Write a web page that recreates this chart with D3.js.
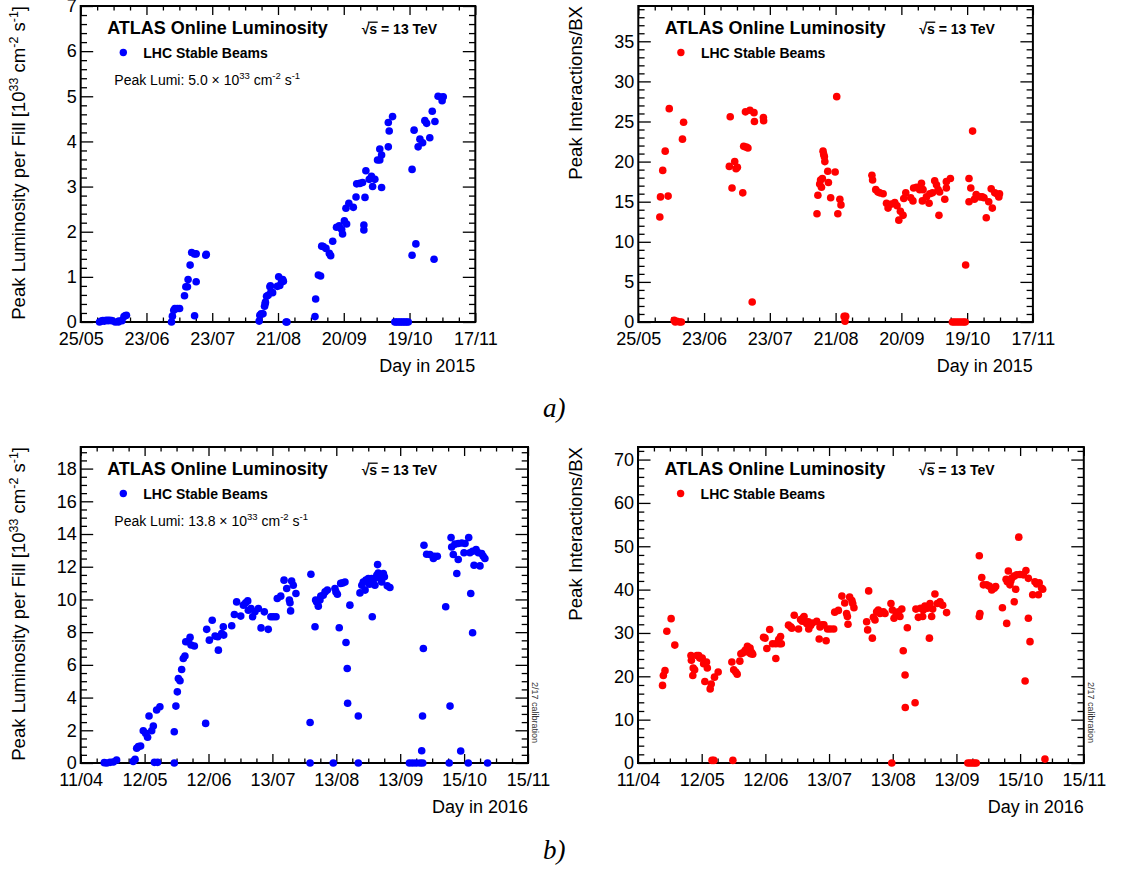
<!DOCTYPE html>
<html><head><meta charset="utf-8">
<script src="https://cdn.jsdelivr.net/npm/d3@7"></script>
<style>
html,body{margin:0;padding:0;background:#fff;}
svg{display:block;font-family:"Liberation Sans",Arial,Helvetica,sans-serif;}
</style></head><body>
<svg id="c" width="1126" height="870"></svg>
<script>
// ---------------- data ----------------
// x = days since first axis label (25/05/2015 or 11/04/2016)
const ticks2015 = ["25/05","23/06","23/07","21/08","20/09","19/10","17/11"];
const ticks2016 = ["11/04","12/05","12/06","13/07","13/08","13/09","15/10","15/11"];
const span2015 = 176;   // 25/05 -> 17/11
const span2016 = 218;   // 11/04 -> 15/11

const lumi2015 = [
 [8.4,0.0],[9.2,0.02],[9.9,0.03],[10.6,0.02],[11.4,0.04],[12.2,0.03],[12.8,0.04],[13.8,0.03],[15.4,0.0],[16.8,0.0],[17.0,0.02],[18.4,0.03],[19.3,0.12],[19.8,0.14],[20.4,0.15],
 [40.5,0.0],[40.9,0.13],[41.5,0.26],[42.0,0.3],[43.1,0.3],[44.1,0.3],[46.3,0.58],[46.9,0.78],[47.6,0.78],[47.9,0.94],[48.8,1.26],[49.5,1.54],[50.7,1.51],[51.5,1.51],[51.5,0.89],[50.8,0.14],[55.8,1.48],[56.0,1.5],
 [79.6,0.02],[79.9,0.15],[80.5,0.18],[81.3,0.18],[82.0,0.35],[82.3,0.41],[82.4,0.44],[82.9,0.57],[83.6,0.59],[84.4,0.78],[84.6,0.8],[84.8,0.66],[85.6,0.65],[87.7,0.79],[88.3,1.0],[88.8,0.81],[89.6,0.89],[90.1,0.94],[90.4,0.9],[91.6,0.0],[92.0,0.0],
 [104.5,0.12],[104.8,0.51],[106.0,1.04],[107.0,1.02],[107.5,1.68],[108.2,1.67],[109.4,1.63],[110.9,1.52],[111.5,1.47],[112.4,1.79],[114.1,2.10],[115.3,2.13],[116.4,2.05],[116.8,1.95],[117.6,2.24],[118.6,2.17],[118.3,2.52],[119.6,2.63],[121.6,2.54],[122.8,2.77],[123.1,3.06],[124.5,3.07],[125.7,3.09],[126.3,2.15],[126.3,2.04],[126.8,2.76],[127.2,3.35],[128.7,3.16],[129.7,3.23],[131.2,3.16],[130.2,3.0],[132.4,3.59],[133.4,3.59],[134.2,3.70],[133.4,3.83],[134.2,2.98],[137.2,3.88],[137.6,4.23],[137.2,4.42],[139.1,4.55],
 [140.1,0],[140.8,0],[141.6,0],[142.4,0],[143.1,0],[143.9,0],[144.6,0],[145.4,0],[146.1,0],
 [147.8,3.38],[148.7,4.25],[147.8,1.48],[149.5,1.73],[150.5,3.88],[151.3,4.05],[152.5,3.97],[153.5,4.46],[154.3,4.40],[155.7,4.08],[156.8,4.67],[158.0,4.44],[157.6,1.39],[159.4,5.0],[160.9,4.98],[161.2,4.9],[161.7,4.99]
];

const pileup2015 = [
 [9.6,13.1],[9.9,15.6],[10.9,18.9],[12.0,21.3],[13.3,15.7],[13.8,26.6],[16.0,0.2],[16.5,0.0],[17.2,0.1],[18.4,0.0],[19.2,0.0],[19.7,22.8],[20.2,24.9],
 [40.6,19.4],[41.0,25.6],[41.8,16.7],[43.0,20.0],[43.6,19.1],[44.2,19.3],[46.6,16.1],[47.0,21.9],[47.8,26.2],[48.2,21.8],[48.9,21.7],[49.8,26.4],[50.8,2.5],[51.6,26.1],[51.8,25.0],[55.8,25.5],[55.9,25.1],
 [79.7,13.5],[80.1,15.8],[80.9,17.2],[81.3,17.7],[81.7,16.8],[82.1,17.9],[82.4,21.3],[82.7,20.9],[83.0,20.6],[83.2,20.0],[84.5,18.8],[84.8,17.4],[85.8,15.5],[87.8,18.7],[88.5,28.1],[89.0,13.5],[89.9,15.3],[90.4,14.6],[91.8,0.7],[92.2,0.1],[92.5,0.7],
 [104.2,18.3],[104.5,17.7],[105.9,16.5],[106.9,16.2],[107.7,16.1],[109.2,16.0],[110.7,14.8],[111.4,14.2],[112.9,14.7],[114.4,14.9],[115.4,14.5],[116.2,12.7],[116.9,13.8],[118.1,13.3],[118.4,15.4],[119.3,16.1],[121.5,15.5],[122.5,15.1],[122.8,16.7],[124.1,16.8],[125.5,16.5],[126.3,17.3],[127.0,16.5],[126.7,15.1],[128.5,15.6],[129.7,14.8],[130.0,16.0],[131.2,16.1],[132.2,17.6],[133.0,17.1],[133.7,16.5],[134.1,13.3],[134.4,16.2],[136.7,15.3],[137.4,17.5],[139.2,17.9],[137.4,16.7],
 [140.1,0],[141.0,0],[142.0,0],[143.0,0],[144.0,0],[145.0,0],[145.8,0],[146.0,7.1],
 [147.5,17.9],[148.3,16.7],[147.5,15.0],[149.1,23.8],[149.9,15.3],[150.7,15.9],[152.3,15.6],[153.4,15.6],[154.2,15.5],[155.2,13.0],[156.3,15.0],[157.4,16.6],[157.9,14.2],[159.0,16.1],[160.3,15.9],[160.8,15.6],[161.1,16.0]
];

const lumi2016 = [
 [11.5,0.02],[12.7,0.0],[14.3,0.04],[15.9,0.06],[17.5,0.18],
 [25.6,0.1],[26.5,0.22],[27.3,0.9],[28.1,1.0],[29.2,1.04],[30.5,1.97],[31.7,1.81],[32.6,1.57],[33.3,2.87],[34.6,1.97],[35.4,2.26],[35.9,0.04],[37.5,0.04],[37.0,3.24],[38.6,3.44],
 [45.6,1.91],[45.6,0.0],[46.4,3.48],[47.1,4.35],[47.6,5.17],[48.4,5.03],[49.2,5.72],[50.0,6.39],[50.8,6.54],[51.2,7.41],[52.4,7.41],[53.3,7.68],[53.8,7.21],[55.4,7.15],
 [60.9,2.42],[61.4,8.17],[62.7,7.51],[64.1,8.73],[65.5,7.76],[66.8,7.72],[67.1,6.90],[68.7,7.92],[69.5,8.33],[69.7,7.82],
 [73.6,8.39],[74.9,9.08],[76.0,9.85],[78.0,8.98],[79.3,9.65],[80.4,9.79],[81.4,9.91],[81.7,9.34],[83.0,9.45],[83.8,8.94],[84.9,9.24],[86.6,9.45],[87.9,8.26],[89.5,9.24],[91.4,8.17],[92.7,8.94],[93.9,8.94],[95.2,8.94],
 [95.8,10.06],[97.5,10.20],[99.1,11.18],[100.4,10.67],[101.7,9.96],[102.0,9.79],[102.3,9.30],[102.8,11.12],[103.6,10.87],[104.9,10.36],
 [111.8,2.48],[111.8,0.0],[112.2,11.54],[114.2,8.33],[114.5,9.96],[115.0,9.85],[115.8,9.59],[116.6,9.96],[117.0,10.2],[118.2,10.26],[119.1,10.46],[120.2,10.57],
 [123.1,0.0],[123.9,10.67],[124.4,10.46],[125.1,10.32],[126.0,8.27],[126.7,10.98],[127.7,11.01],[128.8,11.07],[129.3,7.37],[129.9,5.78],[130.1,3.65],[131.2,9.65],
 [135.3,2.87],[135.3,0.0],[136.1,10.40],[137.0,10.87],[137.7,11.07],[139.0,11.18],[140.2,11.28],[140.7,10.93],[141.8,11.28],[142.6,11.18],[138.6,10.57],[142.1,8.94],[143.4,10.87],[144.3,11.48],[145.0,11.62],[144.7,12.13],[145.9,11.28],[146.7,11.07],[147.5,11.59],[148.0,11.38],[149.4,10.83],[150.7,10.73],
 [160.2,0],[161.8,0],[163.5,0],[165.4,0],[166.7,0],
 [166.2,0.75],[166.6,2.87],[167.0,7.00],[167.3,13.31],[168.6,12.76],[170.2,12.75],[171.9,12.50],[172.3,12.64],[173.8,12.64],
 [177.9,9.55],[179.6,0],[180.0,3.48],[180.5,13.78],[180.8,13.21],[182.4,13.38],[184.0,13.42],[185.7,13.45],[187.3,13.42],[181.6,12.75],[183.3,11.59],[184.0,12.44],[185.2,0.73],[186.8,12.85],[188.9,0],[189.1,13.78],[189.7,12.85],[191.0,12.95],[192.7,13.05],[190.1,10.36],[191.0,7.96],[191.7,12.09],[194.6,12.05],[193.8,12.85],[195.4,12.81],[196.2,12.64],[197.0,12.50],[198.3,0]
];

const pileup2016 = [
 [12.0,17.9],[12.4,20.2],[13.2,21.3],[14.1,30.4],[16.2,33.3],[18.0,27.2],
 [25.9,24.8],[26.1,23.7],[26.8,20.2],[27.0,21.9],[27.7,21.5],[28.8,24.8],[29.7,24.8],[30.2,24.2],[31.4,24.2],[32.1,22.9],[32.7,18.8],[33.5,23.3],[33.9,21.9],[35.3,17.1],[35.8,18.2],[36.2,0.6],[37.1,0.6],[37.4,19.8],[39.2,21.0],
 [45.9,23.3],[46.4,0.6],[46.8,21.5],[47.8,21.0],[48.5,20.5],[49.8,23.5],[50.3,25.2],[51.2,25.4],[52.4,26.0],[53.5,26.9],[53.8,25.6],[55.1,25.2],[55.6,25.5],[54.8,26.5],[56.1,25.1],
 [61.4,29.0],[62.1,28.8],[63.0,26.4],[64.4,30.8],[65.8,27.5],[67.4,27.5],[67.4,24.1],[68.8,28.5],[69.2,27.5],[69.7,29.2],[70.1,27.5],
 [73.6,31.8],[74.7,31.4],[75.2,31.1],[76.4,34.1],[78.5,30.9],[79.5,33.1],[80.3,32.7],[80.8,33.5],[81.2,33.8],[82.1,32.5],[82.6,32.1],[83.3,32.6],[83.5,30.9],[84.4,31.7],[85.3,32.3],[87.4,32.7],[88.6,28.6],[89.0,31.4],[90.0,31.9],[90.9,31.9],[92.0,28.2],[92.7,30.9],[94.1,30.9],[95.7,30.9],
 [96.2,34.8],[98.0,35.2],[99.7,38.5],[101.1,36.9],[102.0,34.5],[102.4,33.8],[102.7,32.0],[103.5,38.3],[104.6,37.5],[105.0,36.8],[105.6,35.8],
 [111.8,32.6],[112.3,30.7],[112.8,39.7],[114.6,28.8],[115.1,33.6],[115.9,33.0],[116.7,34.9],[117.5,35.3],[118.3,34.5],[119.2,34.7],[120.0,34.9],[120.8,34.5],
 [123.7,36.8],[124.1,0],[124.4,35.3],[125.2,33.4],[126.2,34.1],[127.3,34.9],[128.1,33.8],[129.0,35.5],[129.7,25.9],[130.6,20.3],[130.7,12.8],[131.7,31.2],
 [135.5,13.9],[135.9,35.5],[137.1,33.6],[138.2,35.7],[139.2,33.8],[139.5,35.3],[140.3,36.2],[141.5,35.7],[142.5,28.8],[142.8,36.8],[143.6,33.8],[144.1,35.5],[145.2,39.0],[146.4,36.8],[147.7,37.2],[149.0,36.4],[150.9,34.7],
 [161.3,0],[162.4,0],[163.5,0],[164.5,0],[165.4,0],
 [166.9,47.8],[168.1,42.8],[167.2,34.5],[166.9,33.8],[168.9,41.1],[170.5,41.1],[171.8,40.8],[173.0,39.9],[174.2,40.3],[174.9,40.7],
 [178.2,35.8],[180.3,32.2],[181.1,44.3],[180.0,42.4],[180.6,41.8],[181.9,41.1],[182.7,42.6],[183.9,43.1],[185.2,43.4],[186.8,43.5],[188.4,43.4],[189.7,44.4],[190.9,42.6],[182.3,42.0],[184.0,37.2],[184.7,40.1],[186.2,52.1],[189.3,18.9],[190.9,33.4],[191.7,28.0],[193.0,38.8],[194.1,41.8],[195.0,41.3],[196.2,41.6],[197.4,40.3],[195.8,38.8],[197.9,40.1],[199.0,0.9]
];

const yTicksLumi2015 = [0,1,2,3,4,5,6,7];
const yTicksPU2015 = [0,5,10,15,20,25,30,35];
const yTicksLumi2016 = [0,2,4,6,8,10,12,14,16,18];
const yTicksPU2016 = [0,10,20,30,40,50,60,70];

// ---------------- drawing ----------------
const svg = d3.select("#c");
const FONT = '"Liberation Sans",Arial,Helvetica,sans-serif';

const panels = [
 {data:lumi2015, color:"#0000ff", x0:80.7, y0:6, w:394.6, h:316, span:span2015, labels:ticks2015,
  ymax:7, yTicks:yTicksLumi2015, yMinor:0.2, ytitle:"lumi", xtitle:"Day in 2015", peak:"5.0", calib:false},
 {data:pileup2015, color:"#ff0000", x0:638.3, y0:6, w:394.6, h:316, span:span2015, labels:ticks2015,
  ymax:39.4, yTicks:yTicksPU2015, yMinor:1, ytitle:"pu", xtitle:"Day in 2015", peak:null, calib:false},
 {data:lumi2016, color:"#0000ff", x0:80.7, y0:447, w:447.3, h:316, span:span2016, labels:ticks2016,
  ymax:19.32, yTicks:yTicksLumi2016, yMinor:0.5, ytitle:"lumi", xtitle:"Day in 2016", peak:"13.8", calib:true},
 {data:pileup2016, color:"#ff0000", x0:638.0, y0:447, w:445.8, h:316, span:span2016, labels:ticks2016,
  ymax:72.9, yTicks:yTicksPU2016, yMinor:2, ytitle:"pu", xtitle:"Day in 2016", peak:null, calib:true}
];

function styleAxis(g){
  g.select(".domain").remove();
  g.selectAll(".tick line").attr("stroke","#000").attr("stroke-width",1.3);
  g.selectAll(".tick text").attr("fill","#000").attr("font-size",18).attr("font-family",FONT);
  g.attr("font-family",FONT);
}

function supText(sel, parts, baseSize, supSize, supDy){
  parts.forEach(([t,s],i)=>{
    const prevSup = i>0 && parts[i-1][1];
    const ts = sel.append("tspan").text(t).attr("font-size", s?supSize:baseSize);
    if (s && !prevSup) ts.attr("dy", -supDy);
    else if (!s && prevSup) ts.attr("dy", supDy);
  });
}

panels.forEach(p=>{
  const g = svg.append("g");
  const x = d3.scaleLinear().domain([0,p.span]).range([p.x0, p.x0+p.w]);
  const y = d3.scaleLinear().domain([0,p.ymax]).range([p.y0+p.h, p.y0]);
  const nInt = p.labels.length-1;
  const majorX = p.labels.map((d,i)=>i*p.span/nInt);
  const minorX = [];
  for (let i=0;i<nInt;i++) for (let k=1;k<4;k++) minorX.push((i+k/4)*p.span/nInt);
  const minorY = d3.range(0, p.ymax+1e-9, p.yMinor).filter(v=>!p.yTicks.some(t=>Math.abs(t-v)<1e-6));

  // bottom axis
  g.append("g").attr("transform",`translate(0,${p.y0+p.h})`)
    .call(d3.axisBottom(x).tickValues(majorX).tickSize(-9).tickPadding(10).tickFormat((d,i)=>p.labels[i]))
    .call(styleAxis);
  g.append("g").attr("transform",`translate(0,${p.y0+p.h})`)
    .call(d3.axisBottom(x).tickValues(minorX).tickSize(-4.5).tickFormat(""))
    .call(styleAxis);
  // top axis
  g.append("g").attr("transform",`translate(0,${p.y0})`)
    .call(d3.axisTop(x).tickValues(majorX).tickSize(-9).tickFormat(""))
    .call(styleAxis);
  g.append("g").attr("transform",`translate(0,${p.y0})`)
    .call(d3.axisTop(x).tickValues(minorX).tickSize(-4.5).tickFormat(""))
    .call(styleAxis);
  // left axis
  g.append("g").attr("transform",`translate(${p.x0},0)`)
    .call(d3.axisLeft(y).tickValues(p.yTicks).tickSize(-12.5).tickPadding(4).tickFormat(d3.format("d")))
    .call(styleAxis);
  g.append("g").attr("transform",`translate(${p.x0},0)`)
    .call(d3.axisLeft(y).tickValues(minorY).tickSize(-6.3).tickFormat(""))
    .call(styleAxis);
  // right axis
  g.append("g").attr("transform",`translate(${p.x0+p.w},0)`)
    .call(d3.axisRight(y).tickValues(p.yTicks).tickSize(-12.5).tickFormat(""))
    .call(styleAxis);
  g.append("g").attr("transform",`translate(${p.x0+p.w},0)`)
    .call(d3.axisRight(y).tickValues(minorY).tickSize(-6.3).tickFormat(""))
    .call(styleAxis);

  // frame
  g.append("rect").attr("x",p.x0).attr("y",p.y0).attr("width",p.w).attr("height",p.h)
    .attr("fill","none").attr("stroke","#000").attr("stroke-width",2);

  // y title
  const yt = g.append("text")
    .attr("transform",`translate(${p.x0-56},${p.y0}) rotate(-90)`)
    .attr("text-anchor","end").attr("font-size",18.6).attr("fill","#000");
  if (p.ytitle==="lumi"){
    supText(yt, [["Peak Luminosity per Fill [10",false],["33",true],[" cm",false],["-2",true],[" s",false],["-1",true],["]",false]], 18.6, 12.4, 7);
  } else {
    yt.text("Peak Interactions/BX");
  }
  // x title
  g.append("text").attr("x",p.x0+p.w).attr("y",p.y0+p.h+50).attr("text-anchor","end")
    .attr("font-size",18).attr("fill","#000").text(p.xtitle);

  // ATLAS label
  g.append("text").attr("x",p.x0+26.5).attr("y",p.y0+28).attr("font-size",18).attr("font-weight","bold")
    .attr("fill","#000").text("ATLAS Online Luminosity");
  const rt = g.append("text").attr("x",p.x0+281).attr("y",p.y0+27.5).attr("font-size",14).attr("font-weight","bold")
    .attr("fill","#000").text("\u221As = 13 TeV");
  const n = rt.node();
  const s1 = n.getEndPositionOfChar(1).x;
  const r1 = n.getEndPositionOfChar(0).x;
  g.append("line").attr("x1",r1-1.5).attr("x2",s1+0.5).attr("y1",p.y0+27.5-11.3).attr("y2",p.y0+27.5-11.3)
    .attr("stroke","#000").attr("stroke-width",1.3);

  // legend
  g.append("circle").attr("cx",p.x0+42.6).attr("cy",p.y0+46.5).attr("r",3.7).attr("fill",p.color);
  g.append("text").attr("x",p.x0+62.6).attr("y",p.y0+51.5).attr("font-size",14).attr("font-weight","bold")
    .attr("fill","#000").text("LHC Stable Beams");

  if (p.peak){
    const pt = g.append("text").attr("x",p.x0+33.6).attr("y",p.y0+78.5).attr("fill","#000");
    supText(pt, [["Peak Lumi: "+p.peak+" \u00D7 10",false],["33",true],[" cm",false],["-2",true],[" s",false],["-1",true]], 14, 9.5, 5.5);
  }
  if (p.calib){
    g.append("text").attr("transform",`translate(${p.x0+p.w+4},${p.y0+235}) rotate(90)`)
      .attr("font-size",9).attr("fill","#333").text("2/17 calibration");
  }

  // data points
  g.append("g").selectAll("circle").data(p.data).join("circle")
    .attr("cx",d=>x(d[0])).attr("cy",d=>y(d[1])).attr("r",3.8).attr("fill",p.color);
});

// sub-figure labels
svg.append("text").attr("x",543).attr("y",417).attr("font-family",'"Liberation Serif","DejaVu Serif",serif')
  .attr("font-style","italic").attr("font-size",27).attr("fill","#000").text("a)");
svg.append("text").attr("x",543).attr("y",859).attr("font-family",'"Liberation Serif","DejaVu Serif",serif')
  .attr("font-style","italic").attr("font-size",27).attr("fill","#000").text("b)");
</script>
</body></html>
